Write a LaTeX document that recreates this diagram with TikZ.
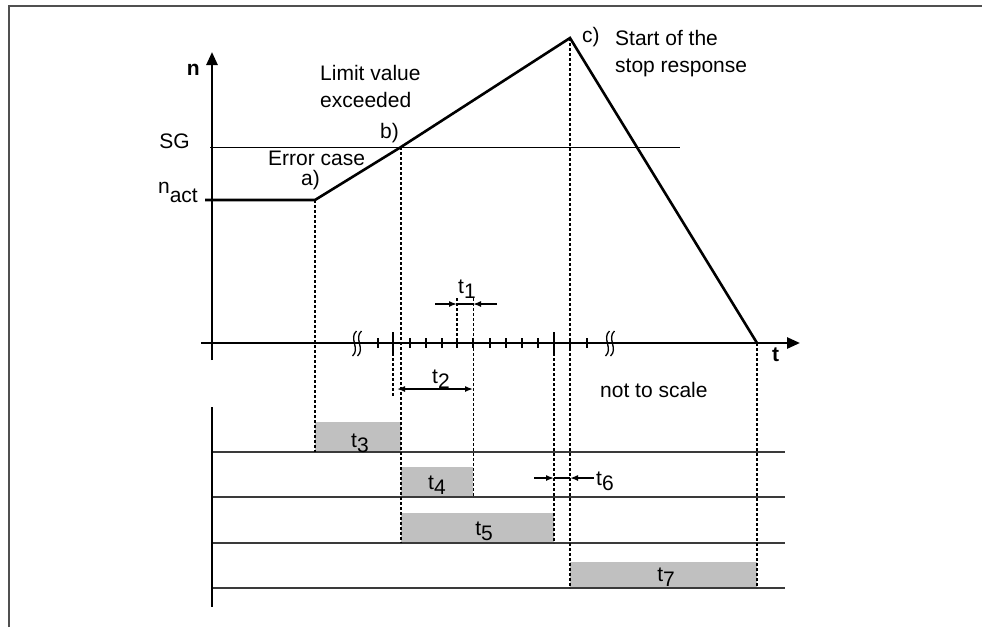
\documentclass[tikz,border=0pt]{standalone}
\usepackage{fontspec}
\setmainfont{Liberation Sans}
\usetikzlibrary{arrows.meta,positioning}
\definecolor{barfill}{HTML}{C0C0C0}
\definecolor{rowrule}{HTML}{3A3A3A}
\definecolor{framerule}{HTML}{505050}
\newcommand\lowidx[1]{\raisebox{-5pt}{#1}}

\begin{document}
\begin{tikzpicture}[x=1pt,y=-1pt,
  font=\fontsize{21}{27}\selectfont,
  axis/.style={line width=2.6pt,-{Triangle[length=13pt,width=11pt]}},
  curve/.style={line width=2.6pt,line join=miter},
  sgline/.style={line width=1pt},
  rowline/.style={draw=rowrule,line width=1.2pt},
  tick/.style={line width=2.4pt},
  vdots/.style={line width=1.8pt,dash pattern=on 3pt off 2pt},
  vfine/.style={line width=0.9pt,dash pattern=on 3pt off 2pt},
  bar/.style={fill=barfill,draw=none},
  dimarr/.style={line width=1.5pt,-{Latex[length=8pt,width=6pt]}},
  lbl/.style={inner sep=0pt}]
  \useasboundingbox (0,0) rectangle (982,627);
  % frame
  \draw[framerule,line width=1.5pt] (9,627) -- (9,6) -- (982,6);

  % key points of the speed curve
  \coordinate (O) at (212,343);
  \coordinate (a) at (315,200);
  \coordinate (b) at (401,147);
  \coordinate (c) at (570,38);
  \coordinate (e) at (757,343);

  % bars
  \fill[bar] (315,422) rectangle (401,452);
  \fill[bar] (401,467) rectangle (473,497);
  \fill[bar] (401,513) rectangle (554,543);
  \fill[bar] (570,562) rectangle (757,588);
  \foreach \y in {452,497,543,588}
    \draw[rowline] (212,\y) -- (785,\y);
  \draw[line width=2.6pt] (212,407) -- (212,607);

  % axes
  \draw[axis] (212,360) -- (212,52);
  \draw[axis] (201,343) -- (800,343);
  \foreach \x in {378,410,426,442,457,473,490,506,522,538,570,587}
    \draw[tick] (\x,338) -- (\x,348);
  \foreach \x in {393,554}
    \draw[tick] (\x,332) -- (\x,355);
  \foreach \x in {357,610}
    \foreach \k in {-2.5,2.5}
      \draw[line width=1.3pt] (\x+\k+2,331) .. controls (\x+\k-6,338) and (\x+\k+6,349) .. (\x+\k-2,356);

  % levels and curve
  \draw[sgline] (210,147) -- (680,147);
  \draw[curve] (205,200) -- (a) -- (b) -- (c) -- (e);

  % guide lines
  \draw[vdots] (a) -- (315,452);
  \draw[vdots] (b) -- (401,543);
  \draw[vdots] (c) -- (570,588);
  \draw[vdots] (e) -- (757,588);
  \draw[vdots] (393,343) -- (393,397);
  \draw[vdots] (457,298) -- (457,343);
  \draw[vfine] (473,298) -- (473,497);
  \draw[vdots] (554,343) -- (554,543);

  % dimension arrows
  \draw[dimarr] (435,304) -- (457,304);
  \draw[dimarr] (497,304) -- (473,304);
  \draw[line width=1.5pt] (457,304) -- (473,304);
  \draw[dimarr,{Latex[length=8pt,width=6pt]}-{Latex[length=8pt,width=6pt]}] (397,389) -- (473,389);
  \draw[dimarr] (534,478) -- (554,478);
  \draw[line width=1.5pt] (554,478) -- (570,478);
  \draw[dimarr] (594,478) -- (570,478);

  % labels
  \node[lbl,anchor=base east,font=\fontsize{21}{27}\selectfont\bfseries] (nlab) at (200,75) {n};
  \node[lbl,anchor=base west,font=\fontsize{21}{27}\selectfont\bfseries] (tlab) at (772,361) {t};
  \node[lbl,anchor=base east] (sg) at (190,148) {SG};
  \node[lbl,anchor=base east] (nact) at (198,202) {\raisebox{9pt}{n}act};
  \node[lbl,anchor=base west] (err) at (268,165) {Error case};
  \node[lbl,anchor=base west] (la) at (301,185) {a)};
  \node[lbl,anchor=base west] (lb) at (380,138) {b)};
  \node[lbl,anchor=base west] (lc) at (582,42) {c)};
  \node[lbl,anchor=north west,align=left] (limit) at (320,65) {Limit value\\exceeded};
  \node[lbl,anchor=north west,align=left] (stop) at (615,30) {Start of the\\stop response};
  \node[lbl,anchor=base west] (scale) at (600,397) {not to scale};
  \node[lbl,anchor=base west] (t1) at (458,293) {t\lowidx{1}};
  \node[lbl,anchor=base west] (t2) at (432,383) {t\lowidx{2}};
  \node[lbl,anchor=base] (t3) at (360,447) {t\lowidx{3}};
  \node[lbl,anchor=base] (t4) at (437,489) {t\lowidx{4}};
  \node[lbl,anchor=base] (t5) at (484,535) {t\lowidx{5}};
  \node[lbl,anchor=base west] (t6) at (596,485) {t\lowidx{6}};
  \node[lbl,anchor=base] (t7) at (666,581) {t\lowidx{7}};
\end{tikzpicture}
\end{document}
